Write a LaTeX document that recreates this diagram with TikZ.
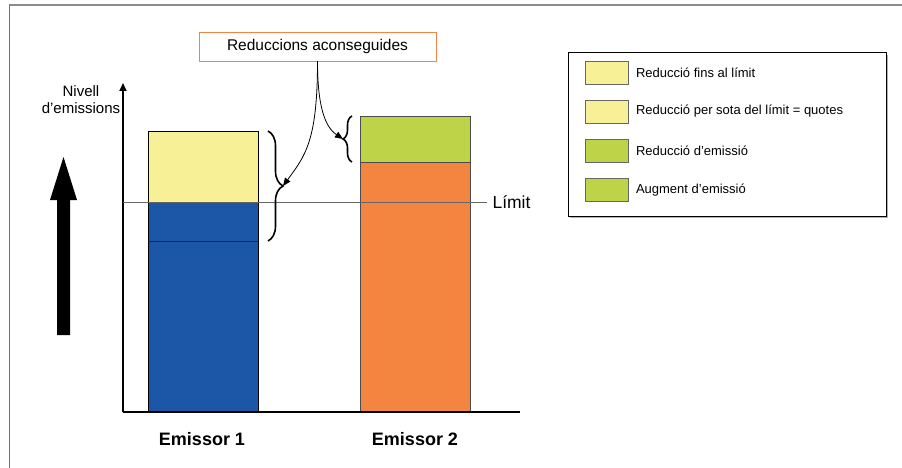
\documentclass[tikz,border=0pt]{standalone}
\usepackage{fontspec}
\setmainfont{Liberation Sans}
\usetikzlibrary{arrows.meta,decorations.pathreplacing,positioning}

\definecolor{groc}{RGB}{248,240,150}
\definecolor{blau}{RGB}{27,87,166}
\definecolor{taronja}{RGB}{244,133,64}
\definecolor{verd}{RGB}{190,211,72}

\begin{document}
\begin{tikzpicture}[x=1pt, y=-1pt, >=Stealth,
    barra/.style={line width=0.8pt},
    clau/.style={decorate, line width=1.6pt},
    fletxa/.style={line width=0.8pt, -{Triangle[length=8pt,width=6.5pt]}}]
    \useasboundingbox (0,0) rectangle (902,468);

    % Frame
    \draw[black!45, line width=2pt] (9,5) -- (902,5);
    \draw[black!55, line width=0.8pt] (9,5) -- (9,468);

    % Bars
    \filldraw[barra, fill=groc, draw=black] (148,131) rectangle (258,202);
    \filldraw[barra, fill=blau, draw=black] (148,202) rectangle (258,412);
    \draw[barra, black!85] (148,241) -- (258,241);
    \filldraw[barra, fill=verd, draw=black!70] (360,116) rectangle (470,162);
    \filldraw[barra, fill=taronja, draw=black!70] (360,162) rectangle (470,412);

    % Axes
    \coordinate (O) at (123,412);
    \draw[line width=2pt] (O) -- (520,412);
    \draw[line width=1.8pt, -{Triangle[length=8pt,width=7pt]}] (O) -- (123,83);
    \node[align=center, font=\fontsize{15}{17}\selectfont] (nivell) at (81,100) {Nivell\\d’emissions};

    % Limit
    \coordinate (lim) at (487,202);
    \draw[black!60, line width=1pt] (123,202) -- (lim);
    \node[right=2pt of lim, font=\fontsize{17.5}{20}\selectfont] (limit) {Límit};

    % Big arrow
    \fill (57,335) -- (57,200) -- (50,200) -- (63.5,157) -- (77,200) -- (70,200) -- (70,335) -- cycle;

    % Braces
    \draw[clau, decoration={brace, amplitude=15pt}] (268,131) -- (268,241);
    \coordinate (tip1) at (283,186);
    \draw[clau, decoration={brace, amplitude=9pt}] (352,162) -- (352,116);
    \coordinate (tip2) at (343,139);

    % Label and arrows
    \node[draw=taronja, fill=white, line width=0.8pt, minimum width=237pt, minimum height=29pt,
        inner sep=0pt, font=\fontsize{15.5}{18}\selectfont] (reduccions) at (317.5,46.5) {Reduccions aconseguides};
    \draw[fletxa] (reduccions.south) .. controls +(0,80) and +(22,-30) .. (tip1);
    \draw[fletxa] (reduccions.south) .. controls +(0,45) and +(-18,-12) .. (tip2);

    % Legend
    \fill[black!30] (570,55) rectangle (888,218);
    \draw[fill=white, line width=1pt] (568,53) rectangle (886,216);
    \foreach \y/\col/\txt [count=\i] in {72.5/groc/{Reducció fins al límit},
        111.5/groc/{Reducció per sota del límit = quotes},
        150.5/verd/{Reducció d’emissió},
        190/verd/{Augment d’emissió}} {
        \filldraw[barra, fill=\col, draw=black!60] (585,\y-11.5) rectangle (628,\y+11.5);
        \node[anchor=west, font=\fontsize{13}{15}\selectfont] (entrada\i) at (632.5,\y) {\txt};
    }

    % Emitters
    \node[font=\bfseries\fontsize{18}{21}\selectfont] (em1) at (202,439) {Emissor 1};
    \node[font=\bfseries\fontsize{18}{21}\selectfont] (em2) at (415,439) {Emissor 2};
\end{tikzpicture}
\end{document}
